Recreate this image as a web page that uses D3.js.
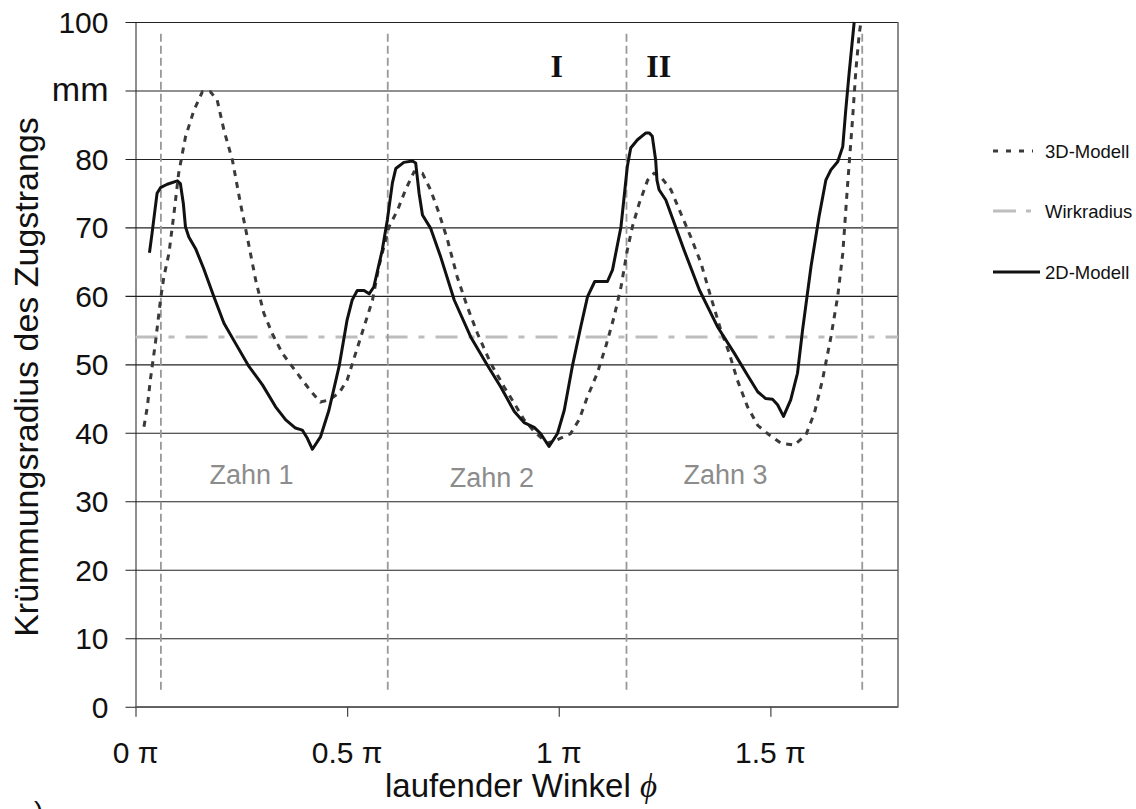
<!DOCTYPE html>
<html>
<head>
<meta charset="utf-8">
<script src="https://cdn.jsdelivr.net/npm/d3@7"></script>
<style>
  body { margin: 0; background: #fff; }
  svg { display: block; }
</style>
</head>
<body>
<div id="chart"></div>
<script>
var svgWidth = 1136;
var svgHeight = 809;

var margin = { top: 22, right: 238, bottom: 102.3, left: 135.5 };
var width = svgWidth - margin.left - margin.right;
var height = svgHeight - margin.top - margin.bottom;

// running angle in units of pi, curvature radius in mm
var phi2D = [0.033, 0.039, 0.051, 0.059, 0.075, 0.099, 0.106, 0.113, 0.118, 0.126, 0.142, 0.161, 0.185, 0.209, 0.236, 0.268, 0.300, 0.331, 0.355, 0.378, 0.394, 0.406, 0.418, 0.437, 0.457, 0.481, 0.500, 0.512, 0.524, 0.540, 0.552, 0.563, 0.583, 0.595, 0.607, 0.615, 0.634, 0.654, 0.662, 0.670, 0.678, 0.697, 0.721, 0.753, 0.792, 0.831, 0.863, 0.895, 0.918, 0.942, 0.957, 0.977, 0.997, 1.013, 1.032, 1.052, 1.068, 1.085, 1.115, 1.127, 1.147, 1.162, 1.170, 1.186, 1.206, 1.214, 1.221, 1.229, 1.232, 1.237, 1.253, 1.273, 1.296, 1.332, 1.375, 1.415, 1.446, 1.470, 1.489, 1.505, 1.517, 1.531, 1.548, 1.564, 1.576, 1.596, 1.615, 1.631, 1.643, 1.659, 1.671, 1.678, 1.686, 1.698];
var r2D = [66.3, 69.1, 75.0, 75.8, 76.3, 76.8, 76.4, 73.5, 70.1, 68.6, 66.9, 64.0, 59.9, 56.0, 53.1, 49.7, 47.0, 43.8, 41.9, 40.7, 40.4, 39.2, 37.6, 39.4, 43.3, 49.7, 56.5, 59.4, 60.8, 60.8, 60.3, 61.3, 66.7, 71.1, 76.5, 78.6, 79.5, 79.7, 79.4, 75.0, 71.8, 69.9, 65.7, 59.4, 54.0, 49.9, 46.7, 43.1, 41.5, 40.8, 39.9, 38.0, 39.9, 43.3, 49.7, 55.5, 59.9, 62.1, 62.1, 63.8, 70.1, 78.9, 81.6, 82.8, 83.8, 83.8, 83.3, 79.8, 76.9, 75.5, 74.0, 70.6, 66.7, 60.9, 55.5, 51.6, 48.4, 46.0, 45.0, 44.9, 44.1, 42.4, 44.8, 48.7, 55.0, 64.3, 71.6, 76.9, 78.4, 79.6, 81.8, 87.1, 92.5, 100];

var phi3D = [0.020, 0.028, 0.035, 0.047, 0.059, 0.067, 0.079, 0.091, 0.102, 0.118, 0.138, 0.158, 0.177, 0.193, 0.209, 0.229, 0.248, 0.264, 0.284, 0.303, 0.323, 0.347, 0.370, 0.394, 0.418, 0.437, 0.457, 0.481, 0.500, 0.520, 0.540, 0.560, 0.575, 0.599, 0.619, 0.638, 0.658, 0.678, 0.697, 0.717, 0.737, 0.760, 0.784, 0.808, 0.839, 0.871, 0.895, 0.918, 0.942, 0.973, 0.997, 1.028, 1.048, 1.068, 1.091, 1.111, 1.131, 1.147, 1.162, 1.174, 1.190, 1.210, 1.225, 1.241, 1.265, 1.288, 1.312, 1.336, 1.359, 1.383, 1.403, 1.422, 1.446, 1.470, 1.497, 1.525, 1.556, 1.584, 1.604, 1.623, 1.643, 1.659, 1.671, 1.682, 1.694, 1.702, 1.710, 1.714];
var r3D = [40.9, 43.8, 47.7, 53.1, 59.4, 62.8, 66.2, 72.1, 77.9, 83.2, 87.1, 89.8, 89.8, 88.6, 84.2, 79.8, 73.5, 68.6, 62.3, 57.5, 54.5, 51.6, 49.7, 47.7, 45.8, 44.5, 44.8, 45.8, 47.7, 51.6, 55.5, 59.4, 64.3, 70.1, 72.5, 75.5, 78.1, 77.9, 75.5, 72.1, 68.2, 62.8, 58.4, 54.5, 50.2, 46.7, 44.3, 41.9, 40.2, 38.5, 39.0, 39.9, 41.9, 45.3, 48.7, 52.6, 57.0, 61.3, 66.7, 70.1, 73.5, 76.9, 77.9, 77.4, 75.5, 72.1, 68.6, 64.8, 59.9, 55.0, 51.6, 47.7, 43.8, 41.1, 39.7, 38.5, 38.2, 39.7, 42.9, 47.7, 54.0, 59.9, 66.2, 75.9, 85.7, 93.0, 98.3, 100];

var wirkradius = 54;
var toothBounds = [0.060, 0.596, 1.160, 1.717];
var toothLabels = [
  { text: "Zahn 1", phi: 0.274, r: 32.5 },
  { text: "Zahn 2", phi: 0.842, r: 32.1 },
  { text: "Zahn 3", phi: 1.394, r: 32.5 }
];
var markLabels = [{ text: "I", phi: 0.995 }, { text: "II", phi: 1.236 }];
var xTicks = [0, 0.5, 1, 1.5];
var yTicks = [0, 10, 20, 30, 40, 50, 60, 70, 80, 90, 100];

var svg = d3.select("#chart")
  .append("svg")
  .attr("width", svgWidth)
  .attr("height", svgHeight)
  .style("font-family", "Liberation Sans, Arial, sans-serif");

svg.append("rect").attr("width", svgWidth).attr("height", svgHeight).attr("fill", "#fff");

var chartGroup = svg.append("g")
  .attr("transform", `translate(${margin.left}, ${margin.top})`);

var x = d3.scaleLinear().domain([0, 1.8015]).range([0, width]);
var y = d3.scaleLinear().domain([0, 100]).range([height, 0]);

// horizontal grid + left ticks
var leftAxis = d3.axisLeft(y).tickValues(yTicks).tickSizeInner(-width).tickSizeOuter(0).tickFormat("");
var yAxis = chartGroup.append("g").call(leftAxis);
yAxis.select(".domain").attr("stroke", "#444").attr("stroke-width", 1.2);
yAxis.selectAll(".tick line")
  .attr("x1", -10)
  .attr("stroke", "#222")
  .attr("stroke-width", 1.1);

// y tick labels
chartGroup.append("g").selectAll("text")
  .data(yTicks)
  .enter()
  .append("text")
  .attr("x", -27)
  .attr("y", d => y(d))
  .attr("dy", d => d === 90 ? "0.3em" : "0.36em")
  .attr("text-anchor", "end")
  .attr("font-size", d => d === 90 ? 34 : 30)
  .attr("fill", "#111")
  .text(d => d === 90 ? "mm" : d);

// plot frame (right and bottom)
chartGroup.append("path")
  .attr("d", `M0,${height}H${width}V0`)
  .attr("fill", "none")
  .attr("stroke", "#666")
  .attr("stroke-width", 1.5);

// x axis ticks
var bottomAxis = d3.axisBottom(x).tickValues(xTicks).tickSize(10).tickSizeOuter(0).tickFormat("");
var xAxis = chartGroup.append("g")
  .attr("transform", `translate(0, ${height})`)
  .call(bottomAxis);
xAxis.select(".domain").remove();
xAxis.selectAll(".tick line").attr("stroke", "#444").attr("stroke-width", 1.2);

chartGroup.append("g").selectAll("text")
  .data(xTicks)
  .enter()
  .append("text")
  .attr("x", d => x(d))
  .attr("y", height + 56)
  .attr("text-anchor", "middle")
  .attr("font-size", 30)
  .attr("fill", "#111")
  .text(d => d + " \u03c0");

// Wirkradius
chartGroup.append("line")
  .attr("x1", 0)
  .attr("x2", width)
  .attr("y1", y(wirkradius))
  .attr("y2", y(wirkradius))
  .attr("stroke", "#bdbdbd")
  .attr("stroke-width", 3)
  .attr("stroke-dasharray", "22,11,6,11");

// tooth boundaries
chartGroup.append("g").selectAll("line")
  .data(toothBounds)
  .enter()
  .append("line")
  .attr("x1", d => x(d))
  .attr("x2", d => x(d))
  .attr("y1", y(98.3))
  .attr("y2", y(2))
  .attr("stroke", "#999")
  .attr("stroke-width", 1.8)
  .attr("stroke-dasharray", "8,4");

var line = d3.line()
  .x(d => x(d[0]))
  .y(d => y(d[1]));

chartGroup.append("path")
  .datum(d3.zip(phi3D, r3D))
  .attr("d", line)
  .attr("fill", "none")
  .attr("stroke", "#3a3a3a")
  .attr("stroke-width", 3)
  .attr("stroke-dasharray", "6,6");

chartGroup.append("path")
  .datum(d3.zip(phi2D, r2D))
  .attr("d", line)
  .attr("fill", "none")
  .attr("stroke", "#111")
  .attr("stroke-width", 3)
  .attr("stroke-linejoin", "round");

// Zahn labels
chartGroup.append("g").selectAll("text")
  .data(toothLabels)
  .enter()
  .append("text")
  .attr("x", d => x(d.phi))
  .attr("y", d => y(d.r))
  .attr("text-anchor", "middle")
  .attr("font-size", 27)
  .attr("fill", "#8c8c8c")
  .text(d => d.text);

// I / II
chartGroup.append("g").selectAll("text")
  .data(markLabels)
  .enter()
  .append("text")
  .attr("x", d => x(d.phi))
  .attr("y", 55)
  .attr("text-anchor", "middle")
  .attr("font-family", "Liberation Serif, Times New Roman, serif")
  .attr("font-weight", "bold")
  .attr("font-size", 32)
  .attr("fill", "#111")
  .text(d => d.text);

// axis titles
var xTitle = svg.append("text")
  .attr("x", 385)
  .attr("y", 797)
  .attr("font-size", 33)
  .attr("fill", "#111");
xTitle.append("tspan").text("laufender Winkel ");
xTitle.append("tspan")
  .attr("font-family", "Liberation Serif, DejaVu Serif, serif")
  .attr("font-style", "italic")
  .text("\u03d5");

svg.append("text")
  .attr("transform", "translate(38, 377) rotate(-90)")
  .attr("text-anchor", "middle")
  .attr("font-size", 34)
  .attr("fill", "#111")
  .text("Krümmungsradius des Zugstrangs");

// stray label fragment at the bottom left, cut by the image edge as in the original
svg.append("text")
  .attr("x", 34)
  .attr("y", 821)
  .attr("font-size", 28)
  .attr("fill", "#111")
  .text(")");

// legend
var legendItems = [
  { name: "3D-Modell", color: "#3a3a3a", dash: "5,8", len: 40, y: 151 },
  { name: "Wirkradius", color: "#bdbdbd", dash: "23,10,5,10", len: 40, y: 211 },
  { name: "2D-Modell", color: "#111", dash: null, len: 47, y: 272 }
];
var legend = svg.append("g").selectAll("g")
  .data(legendItems)
  .enter()
  .append("g")
  .attr("transform", d => `translate(993, ${d.y})`);
legend.append("line")
  .attr("x1", 0)
  .attr("x2", d => d.len)
  .attr("stroke", d => d.color)
  .attr("stroke-width", 3)
  .attr("stroke-dasharray", d => d.dash);
legend.append("text")
  .attr("x", 52)
  .attr("dy", "0.36em")
  .attr("font-size", 18.5)
  .attr("fill", "#111")
  .text(d => d.name);
</script>
</body>
</html>
